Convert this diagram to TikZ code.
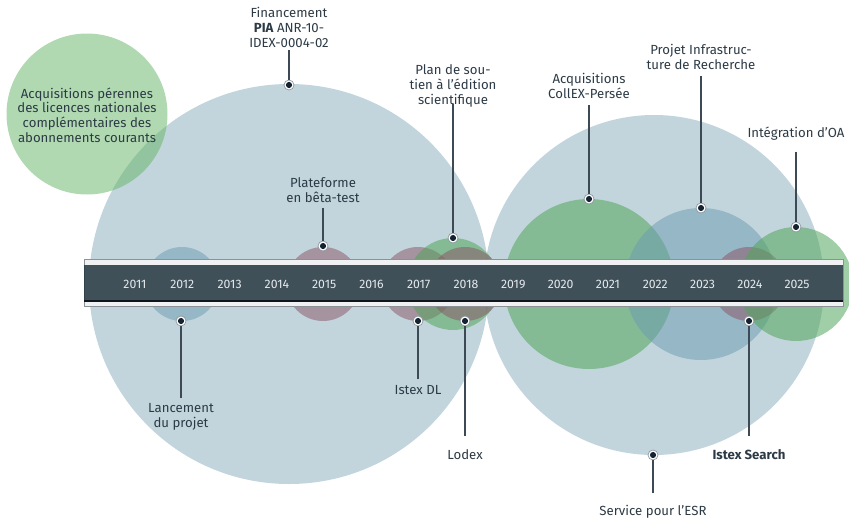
\documentclass[tikz,border=0pt]{standalone}
\usepackage{fontspec}
\setmainfont{Fira Sans}
\usetikzlibrary{positioning}

\tikzset{
  bulle/.style={fill opacity=0.5},
  bleu/.style={bulle,fill={rgb,255:red,133;green,171;blue,187}},
  bleufonce/.style={bulle,fill={rgb,255:red,108;green,153;blue,174}},
  vert/.style={bulle,fill={rgb,255:red,99;green,180;blue,100}},
  vertfonce/.style={fill opacity=0.55,fill={rgb,255:red,82;green,166;blue,92}},
  mauve/.style={bulle,fill={rgb,255:red,140;green,82;blue,100}},
  bande/.style={fill opacity=0.86,fill={rgb,255:red,36;green,54;blue,65}},
  rail/.style={fill={rgb,255:red,240;green,241;blue,242},draw={rgb,255:red,140;green,145;blue,150},line width=0.6},
  jalon/.style={text={rgb,255:red,44;green,58;blue,69},font=\fontsize{9.9}{11.1}\selectfont,align=center,inner sep=0},
  annee/.style={text={rgb,255:red,228;green,233;blue,236},font=\fontsize{9.2}{10}\selectfont,inner sep=0},
  tige/.style={draw={rgb,255:red,61;green,74;blue,85},line width=1.2},
  point/.style={circle,fill=white,draw={rgb,255:red,140;green,148;blue,155},line width=0.5,minimum size=7.5pt,inner sep=0,
    path picture={\fill[fill={rgb,255:red,20;green,35;blue,50}] (path picture bounding box.center) circle (2.3pt);}}
}

\begin{document}
\begin{tikzpicture}[x=0.75pt,y=0.75pt,yscale=-1,xscale=1]
\useasboundingbox (0,0) rectangle (849,518);

% grandes bulles
\fill[bleu] (289,284) circle (200);
\fill[bleu] (654,285) circle (170);
\fill[vert] (87,114) circle (80.5);

% bulles des jalons
\fill[bleufonce] (182,284) circle (37);
\fill[mauve] (323,284) circle (37);
\fill[mauve] (418,284) circle (37);
\fill[vertfonce] (453,284) circle (46);
\fill[mauve] (465,284) circle (37);
\fill[vertfonce] (589,284) circle (85);
\fill[bleufonce] (701,284) circle (76);
\fill[mauve] (749,284) circle (37);
\fill[vertfonce] (796,284) circle (57);

% frise
\draw[rail] (84,259.5) rectangle (843,306.5);
\fill[bande] (84,265) rectangle (843,300.5);
\draw[color={rgb,255:red,18;green,22;blue,26},line width=1.2] (84,301) -- (843,301);

\node[annee] (a2011) at (135,284) {2011};
\node[annee] (a2012) at (182.3,284) {2012};
\node[annee] (a2013) at (229.6,284) {2013};
\node[annee] (a2014) at (276.9,284) {2014};
\node[annee] (a2015) at (324.2,284) {2015};
\node[annee] (a2016) at (371.5,284) {2016};
\node[annee] (a2017) at (418.7,284) {2017};
\node[annee] (a2018) at (466,284) {2018};
\node[annee] (a2019) at (513.3,284) {2019};
\node[annee] (a2020) at (560.6,284) {2020};
\node[annee] (a2021) at (607.9,284) {2021};
\node[annee] (a2022) at (655.2,284) {2022};
\node[annee] (a2023) at (702.5,284) {2023};
\node[annee] (a2024) at (749.8,284) {2024};
\node[annee] (a2025) at (797,284) {2025};

% textes
\node[jalon] (acq) at (87,115) {Acquisitions pérennes\\des licences nationales\\complémentaires des\\abonnements courants};
\node[jalon,anchor=south] (fin) at (289,47.5) {Financement\\\textbf{PIA} ANR-10-\\IDEX-0004-02};
\node[jalon,anchor=south] (plan) at (453,107.5) {Plan de sou-\\tien à l’édition\\scientifique};
\node[jalon,anchor=south] (plat) at (323,202.5) {Plateforme\\en bêta-test};
\node[jalon,anchor=south] (collex) at (589,98.5) {Acquisitions\\CollEX-Persée};
\node[jalon,anchor=south] (pir) at (701,69.5) {Projet Infrastruc-\\ture de Recherche};
\node[jalon,anchor=south] (oa) at (796,141) {Intégration d’OA};
\node[jalon,anchor=north] (lanc) at (181,403) {Lancement\\du projet};
\node[jalon,anchor=north] (idl) at (418,385) {Istex DL};
\node[jalon,anchor=north] (lodex) at (465,449) {Lodex};
\node[jalon,anchor=north,font=\fontsize{9.9}{11.1}\selectfont\bfseries] (search) at (749,449) {Istex Search};
\node[jalon,anchor=north] (esr) at (653,505) {Service pour l’ESR};

% points
\node[point] (pfin) at (289,85) {};
\node[point] (pplan) at (453,238) {};
\node[point] (pplat) at (323,246) {};
\node[point] (pcollex) at (589,199) {};
\node[point] (ppir) at (701,208) {};
\node[point] (poa) at (796,227) {};
\node[point] (planc) at (181,321) {};
\node[point] (pidl) at (418,321) {};
\node[point] (plodex) at (465,321) {};
\node[point] (psearch) at (749,321) {};
\node[point] (pesr) at (653,455) {};

% tiges
\draw[tige,shorten <=2pt] (fin.south) -- (pfin);
\draw[tige,shorten <=-3pt] (plan.south) -- (pplan);
\draw[tige,shorten <=4pt] (plat.south) -- (pplat);
\draw[tige,shorten <=5pt] (collex.south) -- (pcollex);
\draw[tige,shorten <=5pt] (pir.south) -- (ppir);
\draw[tige,shorten <=8pt] (oa.south) -- (poa);
\draw[tige,shorten >=4pt] (planc) -- (lanc.north);
\draw[tige,shorten >=4.5pt] (pidl) -- (idl.north);
\draw[tige,shorten >=10pt] (plodex) -- (lodex.north);
\draw[tige,shorten >=10pt] (psearch) -- (search.north);
\draw[tige,shorten >=9pt] (pesr) -- (esr.north);

\end{tikzpicture}
\end{document}
